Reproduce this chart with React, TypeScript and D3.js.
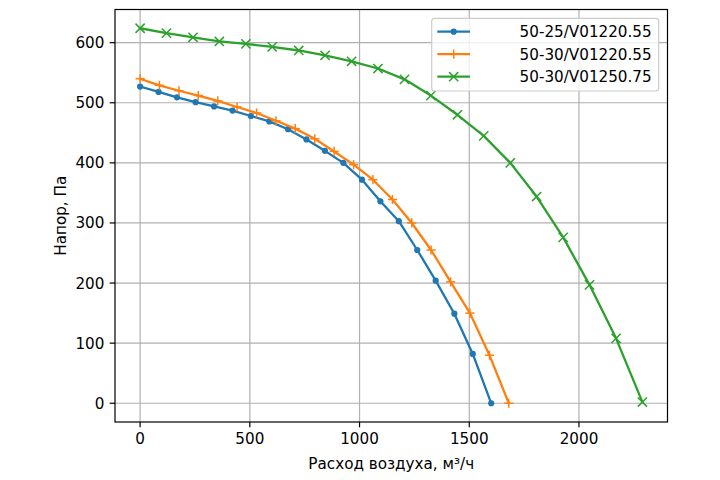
import * as d3 from 'd3';

// air flow, m3/h
const flowA = [0, 84, 168, 253, 337, 421, 505, 589, 674, 758, 842, 926, 1011, 1095, 1179, 1263, 1347, 1432, 1516, 1600];
const flowB = [0, 88, 177, 265, 354, 442, 531, 619, 707, 796, 884, 973, 1061, 1150, 1238, 1326, 1415, 1503, 1592, 1680];
const flowC = [0, 120, 241, 361, 482, 602, 723, 843, 964, 1084, 1205, 1325, 1446, 1566, 1687, 1807, 1928, 2048, 2169, 2289];

// pressure, Pa
const pressA = [527, 518, 509, 501, 494, 487, 478, 469, 456, 439, 420, 400, 372, 336, 303, 255, 204, 149, 82, 0];
const pressB = [540, 529, 520, 512, 503, 493, 483, 470, 457, 440, 419, 397, 372, 339, 300, 255, 202, 150, 80, 0];
const pressC = [624, 616, 609, 602, 598, 593, 587, 579, 569, 557, 539, 512, 480, 445, 400, 344, 276, 197, 108, 2];

const seriesNames = ['50-25/V01220.55', '50-30/V01220.55', '50-30/V01250.75'];
const colors = ['#1f77b4', '#ff7f0e', '#2ca02c'];
const markers = ['dot', 'plus', 'x'];

const xTicks = [0, 500, 1000, 1500, 2000];
const yTicks = [0, 100, 200, 300, 400, 500, 600];

const W = 720;
const H = 480;
const m = { left: 115, right: 667.5, top: 9.5, bottom: 422 };
const font = '"DejaVu Sans", sans-serif';
const fs = 15.2;
const tick = 5.3;

function Marker({ kind, x, y, color }: { kind: string; x: number; y: number; color: string }) {
  if (kind === 'dot') return <circle cx={x} cy={y} r={3.1} fill={color} />;
  if (kind === 'plus')
    return (
      <g stroke={color} strokeWidth={1.5}>
        <line x1={x - 4.6} x2={x + 4.6} y1={y} y2={y} />
        <line x1={x} x2={x} y1={y - 4.6} y2={y + 4.6} />
      </g>
    );
  return (
    <g stroke={color} strokeWidth={1.5}>
      <line x1={x - 4.6} x2={x + 4.6} y1={y - 4.6} y2={y + 4.6} />
      <line x1={x - 4.6} x2={x + 4.6} y1={y + 4.6} y2={y - 4.6} />
    </g>
  );
}

export default function App() {
  const flows = [flowA, flowB, flowC];
  const press = [pressA, pressB, pressC];

  const allX = flows.flat();
  const allY = press.flat();
  const [x0, x1] = d3.extent(allX) as [number, number];
  const [y0, y1] = d3.extent(allY) as [number, number];
  const px = (x1 - x0) * 0.05;
  const py = (y1 - y0) * 0.05;

  const x = d3.scaleLinear().domain([x0 - px, x1 + px]).range([m.left, m.right]);
  const y = d3.scaleLinear().domain([y0 - py, y1 + py]).range([m.bottom, m.top]);

  const line = d3.line<[number, number]>().x(d => x(d[0])).y(d => y(d[1]));

  const legendRows = [31.7, 54.2, 76.7];

  return (
    <svg width={W} height={H} style={{ position: 'absolute', left: 0, top: 0, background: '#fff' }} fontFamily={font}>
      {/* grid */}
      {xTicks.map(t => (
        <line key={'gx' + t} x1={x(t)} x2={x(t)} y1={m.top} y2={m.bottom} stroke="#b0b0b0" strokeWidth={1.2} />
      ))}
      {yTicks.map(t => (
        <line key={'gy' + t} x1={m.left} x2={m.right} y1={y(t)} y2={y(t)} stroke="#b0b0b0" strokeWidth={1.2} />
      ))}

      {/* series */}
      {flows.map((fl, i) => {
        const pts = fl.map((v, j) => [v, press[i][j]] as [number, number]);
        return (
          <g key={i}>
            <path d={line(pts) || ''} fill="none" stroke={colors[i]} strokeWidth={2.3} strokeLinejoin="round" strokeLinecap="square" />
            {pts.map((p, j) => (
              <Marker key={j} kind={markers[i]} x={x(p[0])} y={y(p[1])} color={colors[i]} />
            ))}
          </g>
        );
      })}

      {/* frame */}
      <rect x={m.left} y={m.top} width={m.right - m.left} height={m.bottom - m.top} fill="none" stroke="#000" strokeWidth={1.2} />

      {/* x axis */}
      {xTicks.map(t => (
        <g key={'xt' + t}>
          <line x1={x(t)} x2={x(t)} y1={m.bottom} y2={m.bottom + tick} stroke="#000" strokeWidth={1.2} />
          <text x={x(t)} y={m.bottom + 2 * tick + fs * 0.76} textAnchor="middle" fontSize={fs} fill="#000">{t}</text>
        </g>
      ))}
      <text x={(m.left + m.right) / 2} y={469} textAnchor="middle" fontSize={fs} fill="#000">Расход воздуха, м³/ч</text>

      {/* y axis */}
      {yTicks.map(t => (
        <g key={'yt' + t}>
          <line x1={m.left - tick} x2={m.left} y1={y(t)} y2={y(t)} stroke="#000" strokeWidth={1.2} />
          <text x={m.left - 2 * tick} y={y(t)} dy="0.36em" textAnchor="end" fontSize={fs} fill="#000">{t}</text>
        </g>
      ))}
      <text transform={`translate(66,${(m.top + m.bottom) / 2}) rotate(-90)`} textAnchor="middle" fontSize={fs} fill="#000">Напор, Па</text>

      {/* legend */}
      <rect x={431.7} y={18.3} width={227} height={72.7} rx={3} fill="#fff" fillOpacity={0.8} stroke="#cccccc" strokeWidth={1.2} />
      {seriesNames.map((name, i) => (
        <g key={name}>
          <line x1={437.3} x2={470} y1={legendRows[i]} y2={legendRows[i]} stroke={colors[i]} strokeWidth={2.3} />
          <Marker kind={markers[i]} x={453.7} y={legendRows[i]} color={colors[i]} />
          <text x={651.7} y={legendRows[i]} dy="0.36em" textAnchor="end" fontSize={fs} fill="#000">{name}</text>
        </g>
      ))}
    </svg>
  );
}
